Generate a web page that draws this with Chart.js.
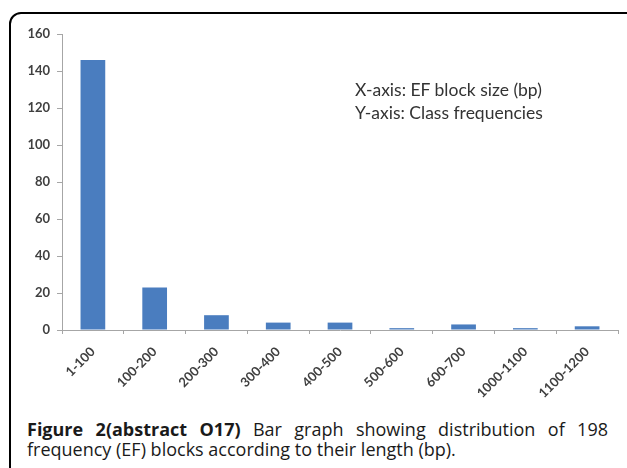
<!DOCTYPE html>
<html>
<head>
<meta charset="utf-8">
<script src="https://cdn.jsdelivr.net/npm/chart.js@4.4.1/dist/chart.umd.min.js"></script>
<style>
  html, body { margin:0; padding:0; background:#fff; width:627px; height:468px; overflow:hidden; }
  #frame { position:absolute; left:9px; top:12px; width:640px; height:520px; border:2px solid #000; border-radius:12px; box-sizing:border-box; }
  #wrap { position:absolute; left:0; top:0; width:627px; height:400px; }
  #note { position:absolute; left:355px; top:78px; font-family:Lato, sans-serif; font-size:17.5px; line-height:23px; color:#333; white-space:nowrap; }
  #cap { position:absolute; left:27px; top:419px; width:581px; font-family:"Open Sans", sans-serif; font-size:18px; line-height:20px; color:#1a1a1a; }
  #cap .l1 { display:block; text-align:justify; text-align-last:justify; }
  #cap b { font-weight:700; }
</style>
</head>
<body>
<div id="frame"></div>
<div id="wrap"><canvas id="c" width="627" height="400"></canvas></div>
<div id="note">X-axis: EF block size (bp)<br>Y-axis: Class frequencies</div>
<div id="cap"><span class="l1"><b>Figure 2(abstract O17)</b> Bar graph showing distribution of 198</span>frequency (EF) blocks according to their length (bp).</div>
<script>
const categories = ["1-100","100-200","200-300","300-400","400-500","500-600","600-700","1000-1100","1100-1200"];
const frequencies = [146, 23, 8, 4, 4, 1, 3, 1, 2];
const yTicks = [0, 20, 40, 60, 80, 100, 120, 140, 160];

const axisColor = '#a6a6a6';
const tickFont = { family: 'Lato, sans-serif', size: 13, weight: 'bold' };

new Chart(document.getElementById('c'), {
  type: 'bar',
  data: {
    labels: categories,
    datasets: [{
      data: frequencies,
      backgroundColor: '#4a7dbf',
      borderWidth: 0,
      barPercentage: 0.4,
      categoryPercentage: 1.0
    }]
  },
  options: {
    responsive: false,
    animation: false,
    devicePixelRatio: 1,
    layout: { padding: { top: 34, right: 9, left: 0, bottom: 0 } },
    plugins: { legend: { display: false }, tooltip: { enabled: false } },
    scales: {
      x: {
        grid: { drawOnChartArea: false, drawTicks: true, tickLength: 4, color: axisColor, offset: true },
        border: { display: true, color: axisColor, width: 1 },
        ticks: { color: '#404040', font: tickFont, minRotation: 45, maxRotation: 45, padding: 10 },
        afterFit: s => { s.height = 70; }
      },
      y: {
        min: 0, max: 160,
        afterBuildTicks: s => { s.ticks = yTicks.map(v => ({ value: v })); },
        grid: { drawOnChartArea: false, drawTicks: true, tickLength: 5, color: axisColor },
        border: { display: true, color: axisColor, width: 1 },
        ticks: { color: '#404040', font: tickFont, padding: 7 },
        afterFit: s => { s.width = 62; }
      }
    }
  }
});
</script>
</body>
</html>
